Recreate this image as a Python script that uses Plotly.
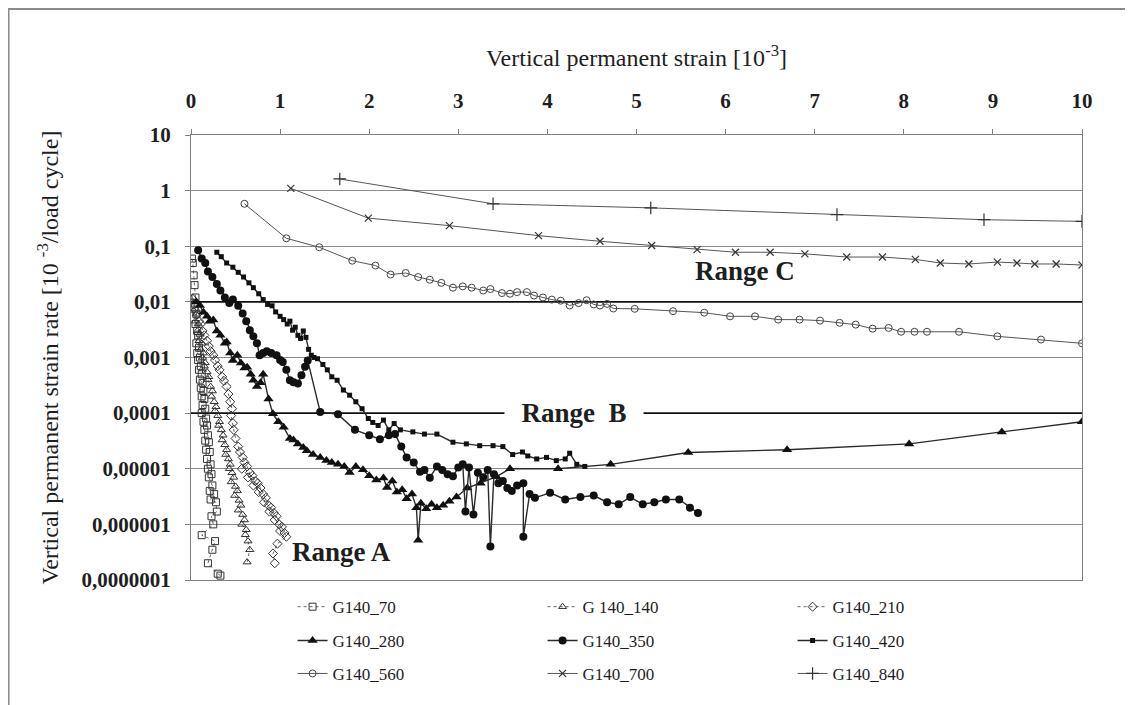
import math
import plotly.graph_objects as go

# ---------------- data ----------------
x_ticks = [0, 1, 2, 3, 4, 5, 6, 7, 8, 9, 10]
y_tick_vals = [1e-7, 1e-6, 1e-5, 1e-4, 1e-3, 1e-2, 1e-1, 1, 10]
y_tick_text = ["0,0000001", "0,000001", "0,00001", "0,0001", "0,001",
               "0,01", "0,1", "1", "10"]

x70 = [0.01, 0.02, 0.03, 0.04, 0.05, 0.04, 0.06, 0.05, 0.07, 0.08, 0.06, 0.09,
       0.07, 0.10, 0.08, 0.11, 0.09, 0.12, 0.10, 0.13, 0.11, 0.14, 0.12, 0.15,
       0.13, 0.16, 0.12, 0.17, 0.14, 0.18, 0.15, 0.19, 0.16, 0.20, 0.17, 0.21,
       0.18, 0.22, 0.19, 0.23, 0.20, 0.24, 0.21, 0.26, 0.22, 0.28, 0.29, 0.23,
       0.25, 0.12, 0.27, 0.24, 0.19, 0.30, 0.33]
v70 = [0.06, 0.05, 0.03, 0.02, 0.012, 0.008, 0.006, 0.004, 0.003, 0.0025,
       0.0018, 0.0015, 0.0012, 0.001, 0.0009, 0.0007, 0.0006, 0.0005, 0.0004,
       0.00035, 0.00028, 0.00025, 0.0002, 0.00018, 0.00014, 0.00012, 0.0001,
       0.00008, 0.00007, 0.00006, 0.00005, 0.00004, 0.000032, 0.00003,
       0.000022, 0.00002, 0.000015, 0.000012, 0.00001, 0.000008, 0.000007,
       0.000005, 0.000004, 0.0000035, 0.0000028, 0.0000025, 0.0000017,
       0.0000014, 0.000001, 0.00000064, 0.0000005, 0.00000035, 0.0000002,
       0.00000013, 0.00000012]

x140 = [0.02, 0.04, 0.03, 0.06, 0.05, 0.08, 0.07, 0.10, 0.09, 0.12, 0.11, 0.14,
        0.13, 0.16, 0.15, 0.18, 0.20, 0.19, 0.22, 0.24, 0.23, 0.26, 0.28, 0.27,
        0.30, 0.32, 0.31, 0.34, 0.36, 0.35, 0.38, 0.40, 0.39, 0.42, 0.44, 0.43,
        0.46, 0.48, 0.45, 0.50, 0.52, 0.49, 0.54, 0.56, 0.53, 0.58, 0.60, 0.57,
        0.62, 0.61, 0.64, 0.66, 0.63]
v140 = [0.012, 0.009, 0.007, 0.006, 0.0045, 0.004, 0.003, 0.0026, 0.002,
        0.0018, 0.0014, 0.0012, 0.001, 0.0008, 0.0007, 0.00055, 0.00045,
        0.0004, 0.0003, 0.00025, 0.0002, 0.00016, 0.00013, 0.00011, 0.00009,
        0.00007, 0.00006, 0.00005, 0.00004, 0.000033, 0.000027, 0.000022,
        0.000018, 0.000015, 0.000012, 0.00001, 0.0000085, 0.000007, 0.0000058,
        0.0000048, 0.000004, 0.0000033, 0.0000027, 0.0000022, 0.0000018,
        0.0000015, 0.0000012, 0.000001, 0.0000008, 0.00000065, 0.0000005,
        0.00000035, 0.00000021]

x210 = [0.03, 0.05, 0.07, 0.09, 0.11, 0.13, 0.15, 0.18, 0.20, 0.22, 0.25, 0.27,
        0.30, 0.32, 0.35, 0.37, 0.40, 0.42, 0.44, 0.46, 0.45, 0.47, 0.48, 0.50,
        0.53, 0.55, 0.58, 0.60, 0.57, 0.63, 0.66, 0.64, 0.69, 0.72, 0.70, 0.75,
        0.78, 0.76, 0.81, 0.84, 0.82, 0.87, 0.90, 0.88, 0.93, 0.96, 0.94, 0.99,
        1.02, 1.00, 1.05, 1.07, 0.97, 0.92, 0.94]
v210 = [0.009, 0.007, 0.006, 0.0045, 0.004, 0.003, 0.0025, 0.002, 0.0016,
        0.0013, 0.0011, 0.0009, 0.0007, 0.0006, 0.00045, 0.00038, 0.0003,
        0.00022, 0.00016, 0.00012, 0.00009, 0.000066, 0.00005, 0.000035,
        0.000025, 0.00002, 0.000016, 0.000013, 0.00001, 0.000011, 0.0000085,
        0.000007, 0.0000075, 0.000006, 0.000005, 0.0000055, 0.0000045,
        0.0000038, 0.0000035, 0.000003, 0.0000025, 0.0000022, 0.000002,
        0.0000017, 0.0000016, 0.0000014, 0.0000012, 0.000001, 0.0000009,
        0.00000076, 0.0000007, 0.0000006, 0.00000045, 0.0000003, 0.0000002]

x280 = [0.06, 0.10, 0.14, 0.18, 0.21, 0.25, 0.29, 0.33, 0.38, 0.40, 0.44, 0.47,
        0.52, 0.56, 0.60, 0.63, 0.67, 0.70, 0.74, 0.78, 0.81, 0.87, 0.92, 0.98,
        1.04, 1.11, 1.15, 1.20, 1.26, 1.30, 1.37, 1.45, 1.52, 1.58, 1.65, 1.72,
        1.78, 1.85, 1.93, 2.00, 2.08, 2.16, 2.20, 2.26, 2.31, 2.37, 2.42, 2.48,
        2.53, 2.55, 2.58, 2.64, 2.70, 2.76, 2.83, 2.90, 2.98, 3.10, 3.25, 3.43,
        3.58, 4.12, 4.71, 5.58, 6.69, 8.06, 9.10, 10.0]
v280 = [0.010, 0.0086, 0.0065, 0.0055, 0.0045, 0.0047, 0.003, 0.0025, 0.0018,
        0.0019, 0.0012, 0.00088, 0.0011, 0.0008, 0.00065, 0.00067, 0.0005,
        0.00039, 0.0003, 0.00035, 0.0005, 0.00018, 0.000097, 0.00007, 0.000056,
        0.000035, 0.000033, 0.000028, 0.000024, 0.000021, 0.000018, 0.000016,
        0.000014, 0.000013, 0.000012, 0.000011, 0.0000086, 0.000011, 0.0000096,
        0.0000075, 0.0000063, 0.0000068, 0.0000046, 0.000006, 0.0000038,
        0.0000042, 0.0000029, 0.0000035, 0.000002, 0.00000052, 0.0000024,
        0.0000019, 0.0000023, 0.000002, 0.0000022, 0.0000026, 0.0000031,
        0.0000045, 0.0000055, 0.0000072, 0.00001, 0.00001, 0.000012, 0.0000196,
        0.000022, 0.000028, 0.000046, 0.00007]

x350 = [0.08, 0.12, 0.16, 0.19, 0.24, 0.29, 0.33, 0.38, 0.43, 0.47, 0.53, 0.58,
        0.62, 0.66, 0.70, 0.74, 0.77, 0.81, 0.85, 0.90, 0.96, 1.00, 1.03, 1.07,
        1.11, 1.15, 1.20, 1.24, 1.28, 1.31, 1.45, 1.65, 1.84, 2.00, 2.12, 2.22,
        2.29, 2.36, 2.42, 2.50, 2.57, 2.62, 2.68, 2.76, 2.82, 2.88, 2.94, 3.00,
        3.05, 3.08, 3.12, 3.17, 3.22, 3.28, 3.33, 3.36, 3.40, 3.45, 3.50, 3.55,
        3.60, 3.66, 3.73, 3.73, 3.80, 3.86, 4.03, 4.20, 4.37, 4.52, 4.67, 4.80,
        4.93, 5.07, 5.20, 5.33, 5.48, 5.60, 5.69]
v350 = [0.085, 0.06, 0.05, 0.035, 0.028, 0.021, 0.016, 0.012, 0.0095, 0.011,
        0.0085, 0.0062, 0.0045, 0.0031, 0.0024, 0.0018, 0.0011, 0.0012, 0.0013,
        0.0012, 0.0011, 0.0009, 0.00083, 0.0006, 0.00039, 0.00036, 0.00034,
        0.00048, 0.00068, 0.00088, 0.000105, 0.000095, 0.00005, 0.00004,
        0.000034, 0.00004, 0.000042, 0.000025, 0.000016, 0.000013, 0.0000088,
        0.0000095, 0.0000069, 0.000011, 0.0000095, 0.000008, 0.0000073,
        0.0000105, 0.000012, 0.0000017, 0.0000105, 0.0000015, 0.0000085,
        0.000007, 0.0000095, 0.0000004, 0.000008, 0.0000055, 0.000006,
        0.0000045, 0.000004, 0.000005, 0.0000055, 0.0000006, 0.0000035,
        0.000003, 0.0000037, 0.0000028, 0.0000031, 0.0000033, 0.0000025,
        0.0000023, 0.0000031, 0.0000023, 0.0000025, 0.0000028, 0.0000028,
        0.000002, 0.0000016]

x420 = [0.29, 0.34, 0.40, 0.47, 0.53, 0.59, 0.65, 0.70, 0.76, 0.81, 0.86, 0.91,
        0.95, 1.00, 1.04, 1.08, 1.11, 1.14, 1.17, 1.20, 1.23, 1.26, 1.29, 1.32,
        1.35, 1.38, 1.42, 1.48, 1.53, 1.58, 1.64, 1.71, 1.78, 1.85, 1.92, 1.99,
        2.04, 2.10, 2.16, 2.22, 2.28, 2.35, 2.49, 2.62, 2.76, 2.94, 3.09, 3.24,
        3.39, 3.50, 3.61, 3.72, 3.78, 3.88, 3.99, 4.10, 4.20, 4.25, 4.33, 4.42]
v420 = [0.078, 0.065, 0.05, 0.042, 0.034, 0.028, 0.022, 0.018, 0.014, 0.011,
        0.009, 0.0085, 0.0066, 0.0055, 0.0048, 0.004, 0.0045, 0.0031, 0.0035,
        0.0025, 0.0022, 0.003, 0.0023, 0.0014, 0.0011, 0.001, 0.00095, 0.00075,
        0.0006, 0.00045, 0.00039, 0.00026, 0.00021, 0.00016, 0.00012, 0.00008,
        0.000068, 0.00006, 0.000075, 0.00005, 0.000065, 0.00005, 0.000046,
        0.000042, 0.000042, 0.00003, 0.000028, 0.000026, 0.000026, 0.000025,
        0.000018, 0.00002, 0.000017, 0.000015, 0.000016, 0.000014, 0.000015,
        0.000019, 0.000012, 0.000011]

x560 = [0.60, 1.07, 1.44, 1.81, 2.07, 2.24, 2.41, 2.55, 2.68, 2.81, 2.94, 3.05,
        3.15, 3.28, 3.36, 3.49, 3.58, 3.66, 3.77, 3.85, 3.95, 4.05, 4.15, 4.25,
        4.35, 4.44, 4.52, 4.59, 4.67, 4.74, 4.98, 5.41, 5.76, 6.05, 6.33, 6.59,
        6.83, 7.06, 7.28, 7.46, 7.65, 7.83, 7.97, 8.12, 8.26, 8.62, 9.05, 9.54,
        10.0]
v560 = [0.58, 0.139, 0.096, 0.055, 0.045, 0.031, 0.033, 0.028, 0.025, 0.022,
        0.018, 0.019, 0.018, 0.016, 0.017, 0.0144, 0.014, 0.015, 0.015, 0.013,
        0.012, 0.011, 0.0105, 0.0086, 0.0095, 0.0107, 0.009, 0.0086, 0.0092,
        0.0076, 0.0075, 0.0068, 0.0064, 0.0055, 0.0055, 0.0048, 0.0048, 0.0046,
        0.0042, 0.0039, 0.0033, 0.0034, 0.0029, 0.0029, 0.0029, 0.0029, 0.0024,
        0.0021, 0.0018]

x700 = [1.12, 1.99, 2.90, 3.90, 4.59, 5.17, 5.68, 6.11, 6.50, 6.89, 7.36, 7.76,
        8.13, 8.41, 8.73, 9.05, 9.27, 9.47, 9.71, 10.0]
v700 = [1.1, 0.32, 0.235, 0.155, 0.123, 0.103, 0.087, 0.078, 0.078, 0.073,
        0.064, 0.064, 0.058, 0.050, 0.048, 0.052, 0.050, 0.048, 0.048, 0.046]

x840 = [1.67, 3.39, 5.16, 7.25, 8.90, 10.0]
v840 = [1.62, 0.58, 0.49, 0.37, 0.30, 0.28]

range_labels = ["Range A", "Range\u00a0\u00a0B", "Range C"]
range_x = [1.69, 4.30, 6.22]
range_v = [3.2e-7, 1e-4, 0.036]

# ---------------- styles ----------------
SERIF = "Liberation Serif"
TXT = "#1e1e1e"

series = [
    ("G140_70", x70, v70, "legend"),
    ("G 140_140", x140, v140, "legend"),
    ("G140_210", x210, v210, "legend"),
    ("G140_280", x280, v280, "legend2"),
    ("G140_350", x350, v350, "legend2"),
    ("G140_420", x420, v420, "legend2"),
    ("G140_560", x560, v560, "legend3"),
    ("G140_700", x700, v700, "legend3"),
    ("G140_840", x840, v840, "legend3"),
]
open_line = dict(color="#666666", width=1, dash="dot")
styles = {
    "G140_70": dict(line=open_line,
                    marker=dict(symbol="square-open", size=7, color="#333333",
                                line=dict(width=1, color="#333333"))),
    "G 140_140": dict(line=open_line,
                      marker=dict(symbol="triangle-up-open", size=7, color="#333333",
                                  line=dict(width=1, color="#333333"))),
    "G140_210": dict(line=open_line,
                     marker=dict(symbol="diamond-open", size=7, color="#333333",
                                 line=dict(width=1, color="#333333"))),
    "G140_280": dict(line=dict(color="#2a2a2a", width=1.4),
                     marker=dict(symbol="triangle-up", size=9, color="#111111")),
    "G140_350": dict(line=dict(color="#2a2a2a", width=1.4),
                     marker=dict(symbol="circle", size=8, color="#111111")),
    "G140_420": dict(line=dict(color="#2a2a2a", width=1.4),
                     marker=dict(symbol="square", size=5, color="#111111")),
    "G140_560": dict(line=dict(color="#555555", width=1),
                     marker=dict(symbol="circle-open", size=7, color="#444444",
                                 line=dict(width=1, color="#444444"))),
    "G140_700": dict(line=dict(color="#555555", width=1),
                     marker=dict(symbol="x-thin", size=7, color="#333333",
                                 line=dict(width=1.2, color="#333333"))),
    "G140_840": dict(line=dict(color="#555555", width=1),
                     marker=dict(symbol="cross-thin", size=9, color="#333333",
                                 line=dict(width=1.2, color="#333333"))),
}

fig = go.Figure()
for name, xs, ys, lg in series:
    st = styles[name]
    fig.add_trace(go.Scatter(x=xs, y=ys, mode="lines+markers", name=name,
                             legend=lg, line=st["line"], marker=st["marker"]))

axis_font = dict(family=SERIF, size=21, color=TXT, weight="bold")
title_font = dict(family=SERIF, size=24, color=TXT)
fig.update_layout(
    width=1125, height=697,
    margin=dict(l=183, r=51, t=127, b=125),
    paper_bgcolor="white", plot_bgcolor="white",
    font=dict(family=SERIF, color=TXT),
    xaxis=dict(side="top", range=[0, 10], tickvals=x_ticks,
               ticks="outside", ticklen=5, tickcolor="#808080",
               showline=True, linecolor="#808080", linewidth=1, mirror=True,
               showgrid=False, zeroline=False, tickfont=axis_font,
               ticklabelstandoff=13,
               title=dict(text="Vertical permanent strain [10<sup>-3</sup>]",
                          font=title_font, standoff=15)),
    yaxis=dict(type="log", range=[-7, 1], tickvals=y_tick_vals,
               ticktext=y_tick_text, ticks="outside", ticklen=5,
               tickcolor="#808080", showline=True, linecolor="#808080",
               linewidth=1, mirror=True, showgrid=True, gridcolor="#8c8c8c",
               gridwidth=1, zeroline=False, tickfont=axis_font,
               ticklabelstandoff=10,
               title=dict(text="Vertical permanent strain rate [10 <sup>-3</sup>/load cycle]",
                          font=title_font, standoff=16)),
)

leg_common = dict(orientation="h", xanchor="left", yanchor="middle",
                  x=0.114, entrywidth=205, bgcolor="rgba(0,0,0,0)",
                  font=dict(family=SERIF, size=17, color=TXT))
fig.update_layout(legend=dict(y=-0.061, **leg_common),
                  legend2=dict(y=-0.137, **leg_common),
                  legend3=dict(y=-0.211, **leg_common))

# black range boundary lines
for yv in [1e-2, 1e-4]:
    fig.add_shape(type="line", xref="x", yref="y", x0=0, x1=10, y0=yv, y1=yv,
                  line=dict(color="#111111", width=1.6), layer="between")

# outer frame
fig.add_shape(type="rect", xref="paper", yref="paper", x0=-0.2048, x1=1.3,
              y0=-0.6, y1=1.2831, line=dict(color="#8a8a8a", width=2),
              fillcolor="rgba(0,0,0,0)")

for lab, xv, vv in zip(range_labels, range_x, range_v):
    is_b = "B" in lab
    fig.add_annotation(x=xv, y=math.log10(vv), xref="x", yref="y", text=lab,
                       showarrow=False,
                       font=dict(family=SERIF, size=27, color=TXT, weight="bold"),
                       bgcolor="white" if is_b else "rgba(0,0,0,0)",
                       width=136 if is_b else None)

fig.write_html("out.html")
